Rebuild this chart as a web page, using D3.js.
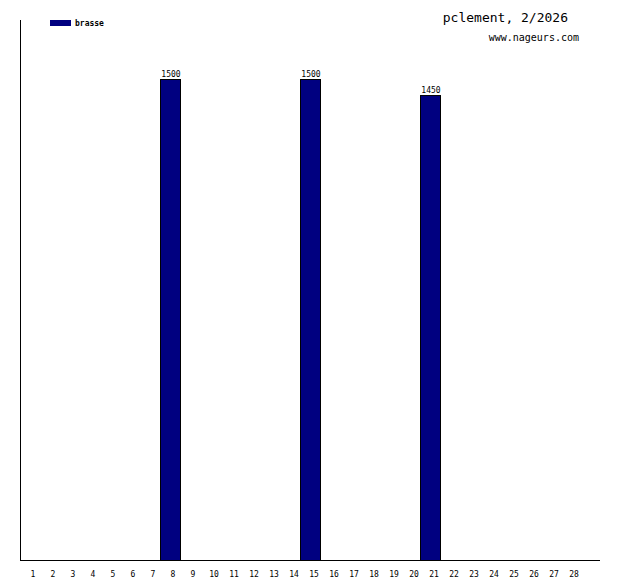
<!DOCTYPE html>
<html>
<head>
<meta charset="utf-8">
<script src="https://cdn.jsdelivr.net/npm/d3@7"></script>
<style>
  body { margin: 0; background: #fff; }
  svg { display: block; }
  text { font-family: "DejaVu Sans Mono", monospace; }
</style>
</head>
<body>
<div id="chart"></div>
<script>
// days of the month
var days = d3.range(1, 29);
// distance swum (brasse) per day, only non-zero days
var brasseDays = [8, 15, 21];
var brasseValues = [1500, 1500, 1450];
var seriesName = "brasse";

var data = days.map(function (d) {
    var i = brasseDays.indexOf(d);
    return { day: d, value: i < 0 ? 0 : brasseValues[i] };
});

var width = 620, height = 580;

var svg = d3.select("#chart").append("svg")
    .attr("width", width)
    .attr("height", height);

var x = d3.scaleBand()
    .domain(days)
    .range([20, 580])
    .padding(0);

var y = d3.scaleLinear()
    .domain([0, 1500])
    .range([560, 79]);

/** bars **/
svg.append("g").selectAll("rect")
    .data(data.filter(function (d) { return d.value > 0; }))
    .enter().append("rect")
    .attr("x", function (d) { return x(d.day) + 0.5; })
    .attr("y", function (d) { return y(d.value) + 0.5; })
    .attr("width", x.bandwidth())
    .attr("height", function (d) { return y(0) - y(d.value); })
    .attr("fill", "#000080")
    .attr("stroke", "#000")
    .attr("stroke-width", 1);

/** value labels **/
svg.append("g").selectAll("text")
    .data(data.filter(function (d) { return d.value > 0; }))
    .enter().append("text")
    .attr("x", function (d) { return x(d.day) + x.bandwidth() / 2 + 1; })
    .attr("y", function (d) { return y(d.value) - 2; })
    .attr("text-anchor", "middle")
    .style("font-size", "8px")
    .text(function (d) { return d.value; });

/** axes lines **/
svg.append("line")
    .attr("x1", 20.5).attr("x2", 20.5)
    .attr("y1", 20).attr("y2", 561)
    .attr("stroke", "#000");
svg.append("line")
    .attr("x1", 20).attr("x2", 600)
    .attr("y1", 560.5).attr("y2", 560.5)
    .attr("stroke", "#000");

/** day labels **/
svg.append("g").selectAll("text")
    .data(days)
    .enter().append("text")
    .attr("x", function (d) { return x(d) + x.bandwidth() / 2 + (d < 10 ? 3 : 4); })
    .attr("y", 577)
    .attr("text-anchor", "middle")
    .style("font-size", "8px")
    .text(function (d) { return d; });

/** legend **/
svg.append("rect")
    .attr("x", 50).attr("y", 20)
    .attr("width", 21).attr("height", 6)
    .attr("fill", "#000080");
svg.append("text")
    .attr("x", 75).attr("y", 26)
    .style("font-size", "8px")
    .style("font-weight", "bold")
    .text(seriesName);

/** title **/
svg.append("text")
    .attr("x", 568).attr("y", 22)
    .attr("text-anchor", "end")
    .style("font-size", "13px")
    .text("pclement, 2/2026");
svg.append("text")
    .attr("x", 579).attr("y", 41)
    .attr("text-anchor", "end")
    .style("font-size", "10px")
    .text("www.nageurs.com");
</script>
</body>
</html>
